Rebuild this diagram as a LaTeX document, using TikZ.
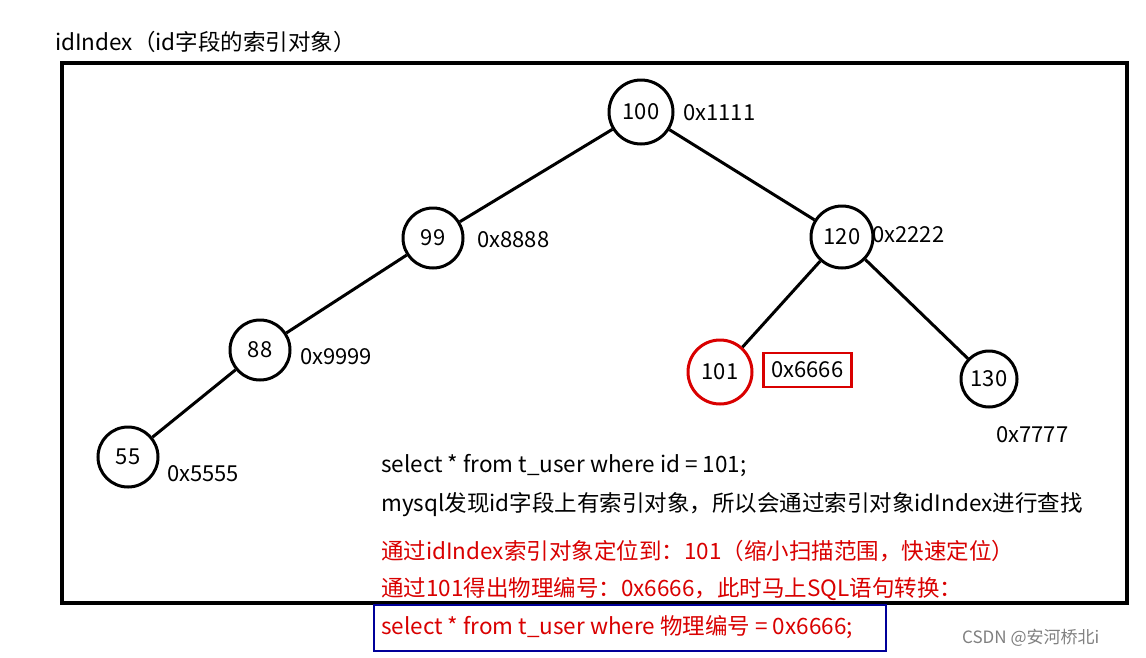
\documentclass[tikz,border=0pt]{standalone}
\usepackage{fontspec}
\setmainfont{Noto Sans CJK SC}
\begin{document}
\begin{tikzpicture}[x=1pt,y=-1pt,
  nd/.style={circle,draw,line width=3pt,minimum size=60pt,inner sep=0pt,font=\fontsize{22}{25}\selectfont},
  lb/.style={anchor=west,inner sep=0pt,font=\fontsize{22}{26}\selectfont},
  tx/.style={anchor=west,inner sep=0pt,font=\fontsize{22.5}{26}\selectfont},
  ed/.style={line width=3pt}]
\useasboundingbox[fill=white] (0,0) rectangle (1146,657);
\node[tx] (title) at (55,42) {idIndex（id字段的索引对象）};
\draw[line width=3.2pt] (62,63) rectangle (1127,603);
\node[nd,minimum size=64pt] (n100) at (641,112) {100};
\node[nd] (n99) at (433,238) {99};
\node[nd,minimum size=62pt] (n120) at (842,237) {120};
\node[nd] (n88) at (260,350) {88};
\node[nd,draw=red!85!black,minimum size=64pt] (n101) at (720,372) {101};
\node[nd,minimum size=56pt] (n130) at (989,379) {130};
\node[nd] (n55) at (128,457) {55};
\draw[ed] (n100) -- (n99);
\draw[ed] (n100) -- (n120);
\draw[ed] (n99) -- (n88);
\draw[ed] (n88) -- (n55);
\draw[ed] (n120) -- (n101);
\draw[ed] (n120) -- (n130);
\node[lb] (a1) at (683,113) {0x1111};
\node[lb] (a2) at (477,240) {0x8888};
\node[lb] (a3) at (872,235) {0x2222};
\node[lb] (a4) at (300,357) {0x9999};
\node[lb,draw=red!85!black,line width=2.6pt,inner xsep=8pt,inner ysep=9pt] (a5) at (762,370) {0x6666};
\node[lb] (a6) at (996,435) {0x7777};
\node[lb] (a7) at (167,474) {0x5555};
\node[tx] (t1) at (381,466) {select * from t\_user where id = 101;};
\node[tx] (t2) at (381,505) {mysql发现id字段上有索引对象，所以会通过索引对象idIndex进行查找};
\node[tx,text=red!85!black] (t3) at (381,551) {通过idIndex索引对象定位到：101（缩小扫描范围，快速定位）};
\node[tx,text=red!85!black] (t4) at (381,589) {通过101得出物理编号：0x6666，此时马上SQL语句转换：};
\node[tx,text=red!85!black] (t5) at (381,627) {select * from t\_user where 物理编号 = 0x6666;};
\draw[line width=2.6pt,draw=blue!60!black] (374,605) rectangle (886,651);
\node[anchor=west,inner sep=0pt,text=gray,font=\fontsize{17}{20}\selectfont] (wm) at (962,638) {CSDN @安河桥北i};
\end{tikzpicture}
\end{document}
